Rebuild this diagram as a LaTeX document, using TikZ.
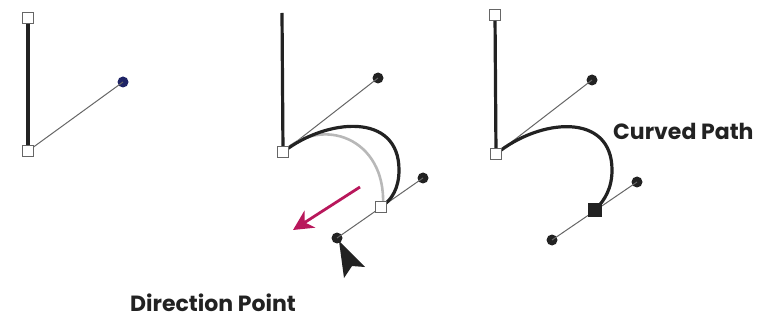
\documentclass[tikz,border=0pt]{standalone}
\usepackage{fontspec}
\setmainfont{Poppins}
\usepackage{tikz}
\usetikzlibrary{arrows.meta, positioning}

\definecolor{ink}{HTML}{222222}
\definecolor{handlegray}{HTML}{666666}
\definecolor{navy}{HTML}{1F2466}
\definecolor{pink}{HTML}{B8175B}

\tikzset{
  anchorpt/.style={draw=handlegray, fill=white, line width=1pt, minimum size=11pt, inner sep=0pt},
  selpt/.style={draw=ink, fill=ink, minimum size=13pt, inner sep=0pt},
  handlept/.style={circle, fill=ink, minimum size=11pt, inner sep=0pt},
  handleline/.style={draw=handlegray, line width=1pt},
  seg/.style={draw=ink, line width=3.2pt},
  label/.style={font=\bfseries\fontsize{22}{26}\selectfont, text=ink, inner sep=0pt, anchor=base west}
}

\begin{document}
\begin{tikzpicture}[x=1pt, y=-1pt]
  \useasboundingbox (0,0) rectangle (759,320);
  % First stage: straight segment and handle
  \node[anchorpt] (t1) at (28,18) {};
  \node[anchorpt] (a1) at (28,151) {};
  \node[handlept, fill=navy] (h1) at (123,82) {};
  \draw[seg] (t1) -- (a1);
  \draw[handleline] (a1.center) -- (h1.center);
  \node[anchorpt] at (a1) {};
  % Second stage: dragging the direction point
  \coordinate (t2) at (282,13);
  \node[handlept] (h2) at (378,78) {};
  \node[handlept] (d2) at (423,178) {};
  \node[handlept] (e2) at (337,238) {};
  \coordinate (a2) at (283,152);
  \coordinate (b2) at (381,207);
  \draw[handleline] (a2) -- (h2.center);
  \draw[handleline] (e2.center) -- (d2.center);
  \draw[draw=black!28, line width=2.6pt] (a2) .. controls (322,115) and (386,138) .. (383,205);
  \draw[seg] (t2) -- (a2);
  \draw[seg] (a2) .. controls (327,118) and (399,112) .. (399,170)
                  .. controls (399,188) and (392,200) .. (b2);
  \node[anchorpt] (a2n) at (a2) {};
  \node[anchorpt] (b2n) at (b2) {};
  % pink drag arrow and cursor
  \coordinate (p1) at (360,187);
  \coordinate (p2) at (293,230);
  \draw[pink, line width=2.8pt, -{Stealth[length=20pt, width=20pt, inset=6pt]}] (p1) -- (p2);
  \fill[ink] (339,241) -- (365,267) -- (352,266) -- (344,278) -- cycle;
  \node[label] (dp) at (130,311) {Direction Point};
  % Third stage: finished curve
  \node[anchorpt] (t3) at (495,15) {};
  \coordinate (a3) at (496,154);
  \node[handlept] (h3) at (592,80) {};
  \node[handlept] (d3) at (637,182) {};
  \node[handlept] (e3) at (552,240) {};
  \node[selpt] (b3) at (595,210) {};
  \draw[handleline] (a3) -- (h3.center);
  \draw[handleline] (e3.center) -- (d3.center);
  \draw[seg] (t3) -- (a3);
  \draw[seg] (a3) .. controls (540,118) and (612,112) .. (612,170)
                  .. controls (612,188) and (605,200) .. (b3.center);
  \node[anchorpt] (a3n) at (a3) {};
  \node[selpt] at (b3) {};
  \node[label] (cp) at (613,140) {Curved Path};
\end{tikzpicture}
\end{document}
